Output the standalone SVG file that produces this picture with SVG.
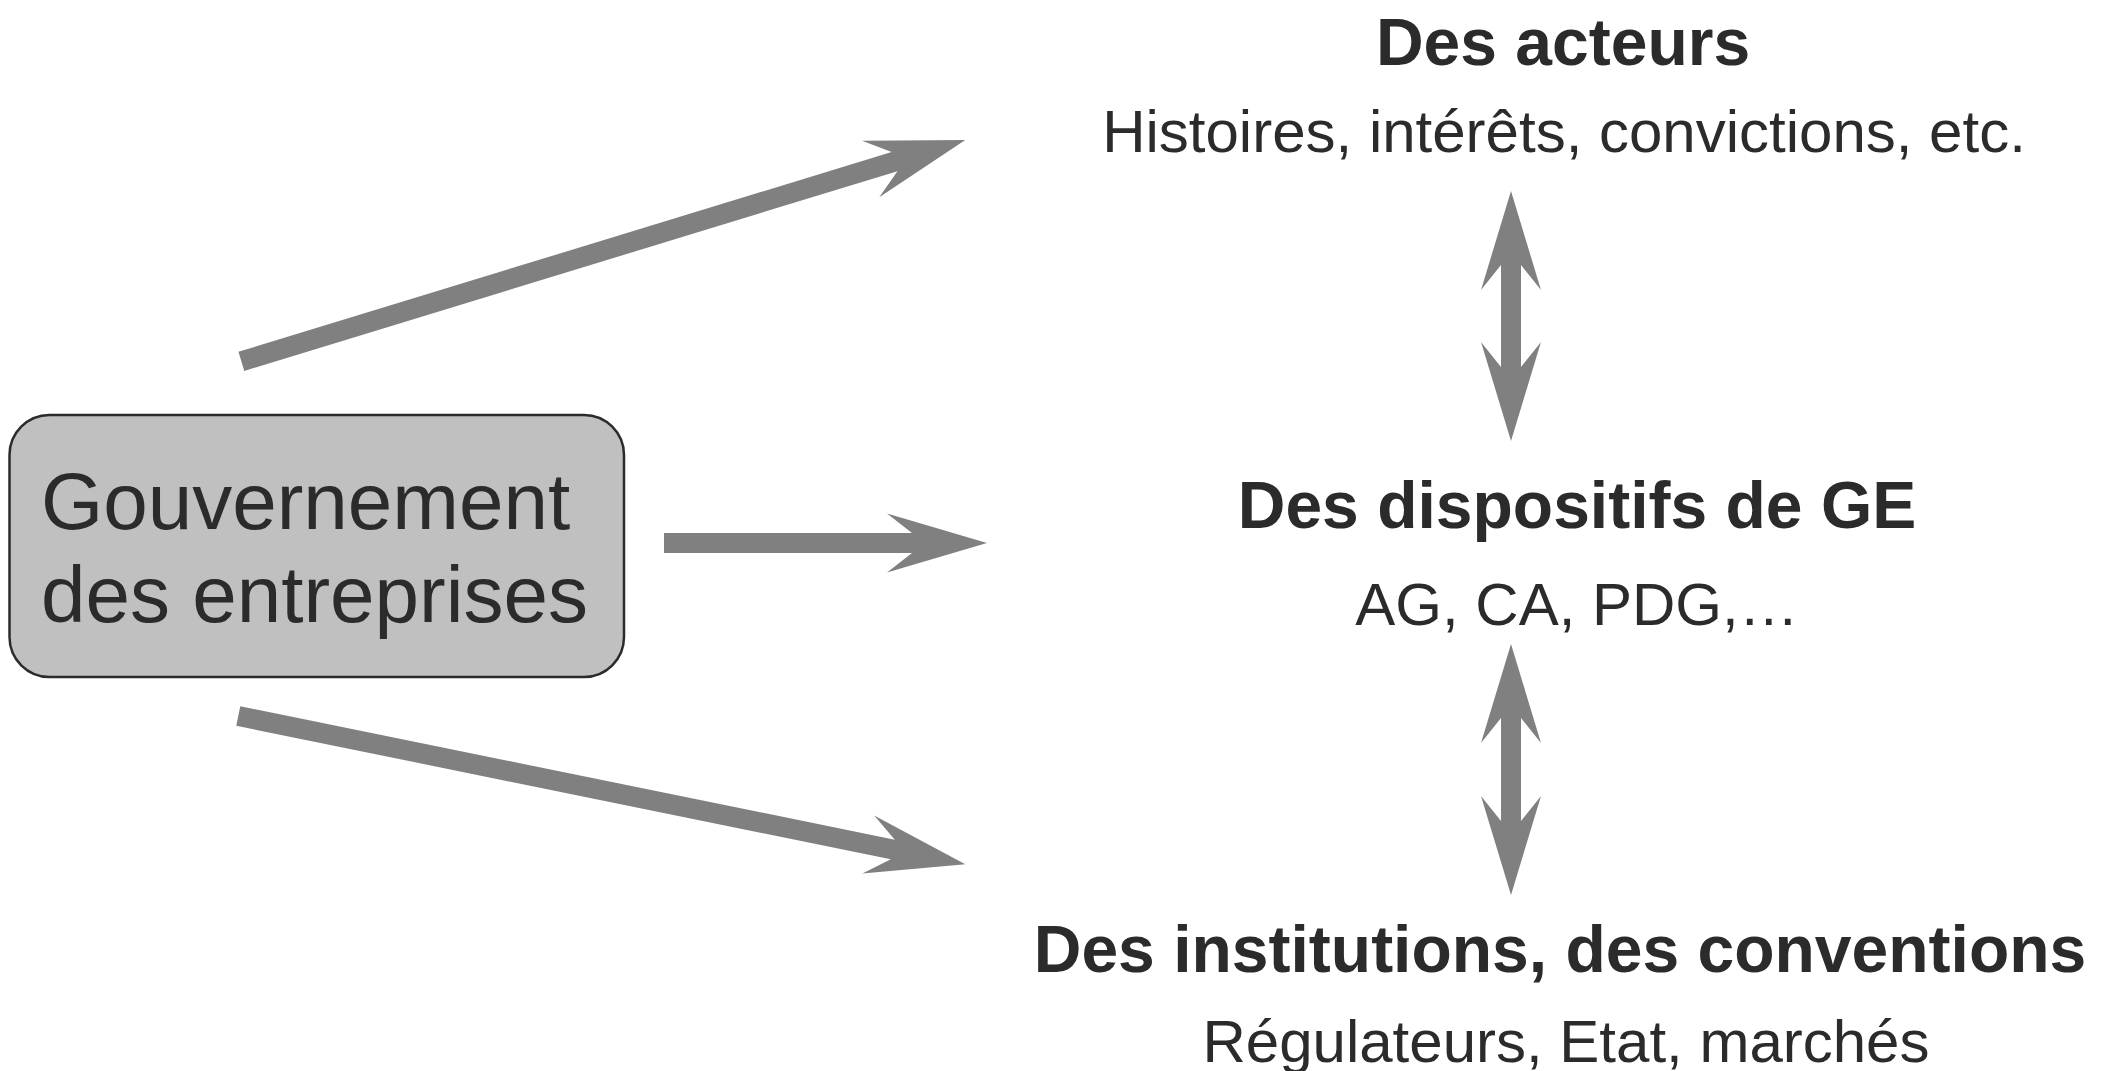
<svg xmlns="http://www.w3.org/2000/svg" width="2108" height="1071" viewBox="0 0 2108 1071">
<style>
.t{font-family:"Liberation Sans",Arial,sans-serif;fill:#2b2b2b}
.b{font-weight:bold;font-size:66px;text-anchor:middle}
.s{font-size:60px;text-anchor:middle}
.arr{fill:#808080;stroke:none}
</style>
<rect width="2108" height="1071" fill="#ffffff"/>
<g id="connectors">
<path class="arr" transform="translate(965.3,140) rotate(-17)" d="M-757,-10 L-74,-10 L-99,-29.5 L0,0 L-99,29.5 L-74,10 L-757,10 Z"/>
<path class="arr" transform="translate(987,543)" d="M-323,-10 L-75,-10 L-100,-29.5 L0,0 L-100,29.5 L-75,10 L-323,10 Z"/>
<path class="arr" transform="translate(965.3,864.3) rotate(11.53)" d="M-742,-10 L-74,-10 L-99,-29.5 L0,0 L-99,29.5 L-74,10 L-742,10 Z"/>
<path class="arr" d="M1511,191 L1541,290 L1521,265 L1521,367 L1541,342 L1511,441 L1481,342 L1501,367 L1501,265 L1481,290 Z"/>
<path class="arr" d="M1511,644 L1541,743 L1521,718 L1521,821 L1541,796 L1511,895 L1481,796 L1501,821 L1501,718 L1481,743 Z"/>
</g>
<g id="gouvernement">
<rect x="9.5" y="415" width="614.5" height="262" rx="40" ry="40" fill="#c0c0c0" stroke="#2b2b2b" stroke-width="2.5"/>
<text class="t" x="41" y="529" font-size="80">Gouvernement</text>
<text class="t" x="41" y="622" font-size="80">des entreprises</text>
</g>
<g id="acteurs">
<text class="t b" x="1563" y="65">Des acteurs</text>
<text class="t s" x="1564" y="152">Histoires, intérêts, convictions, etc.</text>
</g>
<g id="dispositifs">
<text class="t b" x="1577" y="528">Des dispositifs de GE</text>
<text class="t s" x="1577" y="625">AG, CA, PDG,…</text>
</g>
<g id="institutions">
<text class="t b" x="1560" y="972">Des institutions, des conventions</text>
<text class="t s" x="1566" y="1062">Régulateurs, Etat, marchés</text>
</g>
</svg>
